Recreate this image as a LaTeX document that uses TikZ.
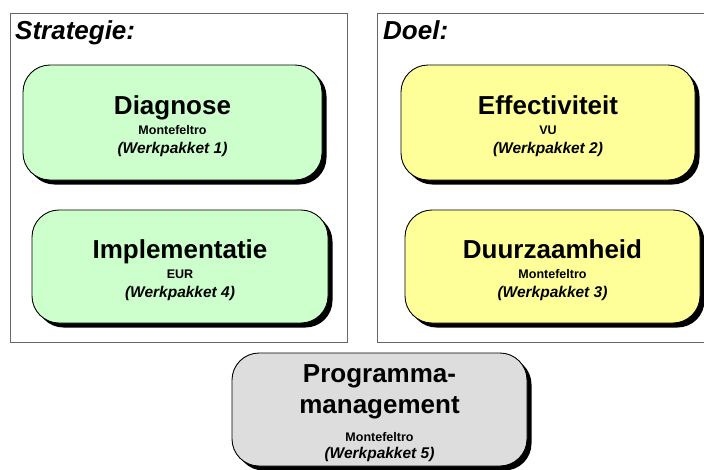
\documentclass[tikz,border=0pt]{standalone}
\usepackage{fontspec}
\setmainfont{Liberation Sans}
\usetikzlibrary{shadows}

\definecolor{wpgroen}{HTML}{CCFFCC}
\definecolor{wpgeel}{HTML}{FFFF99}
\definecolor{wpgrijs}{HTML}{DDDDDD}

\newcommand{\wptitel}[1]{{\fontsize{26}{30}\selectfont #1}}
\newcommand{\wppartner}[1]{{\fontsize{12.5}{15}\selectfont #1}}
\newcommand{\wpnummer}[1]{{\fontsize{15.5}{18}\selectfont\itshape (Werkpakket #1)}}

\begin{document}
\begin{tikzpicture}[x = 1pt, y = -1pt,
  paneel/.style = {draw = black!60, line width = 1pt},
  kop/.style = {anchor = base west, inner sep = 0pt,
    font = \fontsize{26}{30}\selectfont\bfseries\itshape},
  pakket/.style = {draw = black, line width = 0.9pt, rounded corners = 27pt, inner sep = 0pt,
    drop shadow = {shadow xshift = 4.5pt, shadow yshift = -4.5pt, fill = black, opacity = 1}},
  tekst/.style = {align = center, inner sep = 0pt, font = \fontsize{12.5}{15}\selectfont\bfseries}]
\useasboundingbox (0, 0) rectangle (704, 469);
% panelen
\draw [paneel] (10, 13) rectangle (347, 342);
\draw [paneel] (377, 13) rectangle (708, 342);
\node [kop] (strategie) at (15, 39) {Strategie:};
\node [kop] (doel) at (383, 39) {Doel:};
% werkpakketten
\node [pakket, fill = wpgroen, minimum width = 299pt, minimum height = 115pt] (diagnose) at (172.5, 122.5) {};
\node [pakket, fill = wpgroen, minimum width = 296pt, minimum height = 113pt] (implementatie) at (180, 266.5) {};
\node [pakket, fill = wpgeel, minimum width = 294pt, minimum height = 115pt] (effectiviteit) at (548, 122.5) {};
\node [pakket, fill = wpgeel, minimum width = 295pt, minimum height = 113pt] (duurzaamheid) at (552.5, 266.5) {};
\node [pakket, fill = wpgrijs, minimum width = 295pt, minimum height = 113pt] (programma) at (379.5, 409.5) {};
% teksten
\node [tekst] (diagnose-tekst) at ([yshift = -3.5pt] diagnose.center)
  {\wptitel{Diagnose}\\[4.5pt]\wppartner{Montefeltro}\\[4pt]\wpnummer{1}};
\node [tekst] (implementatie-tekst) at ([yshift = -3.5pt] implementatie.center)
  {\wptitel{Implementatie}\\[4.5pt]\wppartner{EUR}\\[4pt]\wpnummer{4}};
\node [tekst] (effectiviteit-tekst) at ([yshift = -3.5pt] effectiviteit.center)
  {\wptitel{Effectiviteit}\\[4.5pt]\wppartner{VU}\\[4pt]\wpnummer{2}};
\node [tekst] (duurzaamheid-tekst) at ([yshift = -3.5pt] duurzaamheid.center)
  {\wptitel{Duurzaamheid}\\[4.5pt]\wppartner{Montefeltro}\\[4pt]\wpnummer{3}};
\node [tekst] (programma-tekst) at ([yshift = -3.5pt] programma.center)
  {\wptitel{Programma-}\\[8pt]\wptitel{management}\\[13pt]\wppartner{Montefeltro}\\[2pt]\wpnummer{5}};
\end{tikzpicture}
\end{document}
